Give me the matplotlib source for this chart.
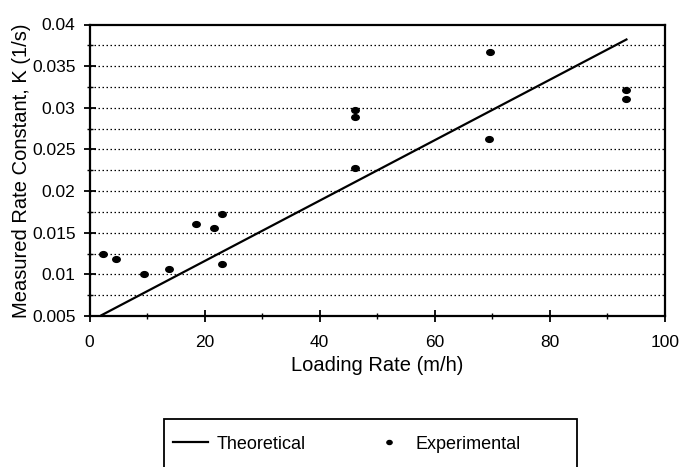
import numpy as np
import matplotlib.pyplot as plt
from matplotlib.ticker import MultipleLocator, FuncFormatter
from matplotlib.path import Path
from matplotlib.patches import Rectangle

plt.rcParams['font.family'] = ['Liberation Sans', 'DejaVu Sans']

# experimental points
load_exp = [2.3, 4.6, 9.4, 13.8, 18.5, 21.7, 23.0, 23.0,
            46.1, 46.1, 46.1, 69.6, 69.5, 93.2, 93.2]
k_exp = [0.0124, 0.0119, 0.0100, 0.0106, 0.0160, 0.0156, 0.0172, 0.0113,
         0.0297, 0.0289, 0.0228, 0.0367, 0.0263, 0.0321, 0.0310]

# theoretical line
load_th = [2.1, 93.3]
k_th = [0.0051, 0.0382]


if __name__ == '__main__':

  W, H = 690., 467.
  fig = plt.figure(figsize=(6.9, 4.67), dpi=100)
  ax = fig.add_axes([89.5/W, 1-316/H, (665-89.5)/W, (316-24.5)/H])

  for yy in np.arange(0.0075, 0.0376, 0.0025):
    ax.axhline(yy, color='black', linestyle=(0, (1.2, 2.0)), lw=0.9, zorder=1)

  # slightly flattened dot, like the scanned markers
  circ = Path.unit_circle()
  dot = Path(circ.vertices * np.array([1.3, 1.0]), circ.codes)

  ln, = ax.plot(load_th, k_th, color='black', lw=1.6, zorder=3)
  pts, = ax.plot(load_exp, k_exp, linestyle='', marker=dot, ms=5.4,
                 color='black', zorder=4)

  ax.set_xlim(0, 100)
  ax.set_ylim(0.005, 0.04)
  ax.xaxis.set_major_locator(MultipleLocator(20))
  ax.xaxis.set_minor_locator(MultipleLocator(10))
  ax.yaxis.set_major_locator(MultipleLocator(0.005))
  ax.yaxis.set_minor_locator(MultipleLocator(0.0025))
  ax.yaxis.set_major_formatter(FuncFormatter(lambda v, p: f'{round(v, 4):g}'))
  ax.tick_params(which='major', direction='inout', length=8, width=1.3,
                 labelsize=12.5)
  ax.tick_params(axis='x', which='major', pad=10)
  ax.tick_params(axis='y', which='major', pad=6)
  ax.tick_params(which='minor', direction='inout', length=5, width=1.0)
  for s in ax.spines.values():
    s.set_linewidth(1.6)

  ax.set_xlabel('Loading Rate (m/h)', fontsize=14.5, labelpad=4)
  ax.set_ylabel('Measured Rate Constant, K (1/s)', fontsize=14.5, labelpad=1)

  # legend box (open at the bottom edge of the figure)
  fig.patches.append(Rectangle((164/W, -0.02), (577-164)/W, 1-419/H+0.02,
                               transform=fig.transFigure, fill=False,
                               edgecolor='black', lw=1.3))
  leg = fig.legend([ln, pts], ['Theoretical', 'Experimental'], ncol=2,
                   loc='upper left', bbox_to_anchor=(159/W, 1-422/H),
                   fontsize=13, frameon=False,
                   handlelength=1.95, handletextpad=0.5, columnspacing=3.6,
                   markerscale=0.7, borderpad=0.75, borderaxespad=0)

  fig.savefig('out.png', dpi=100)
